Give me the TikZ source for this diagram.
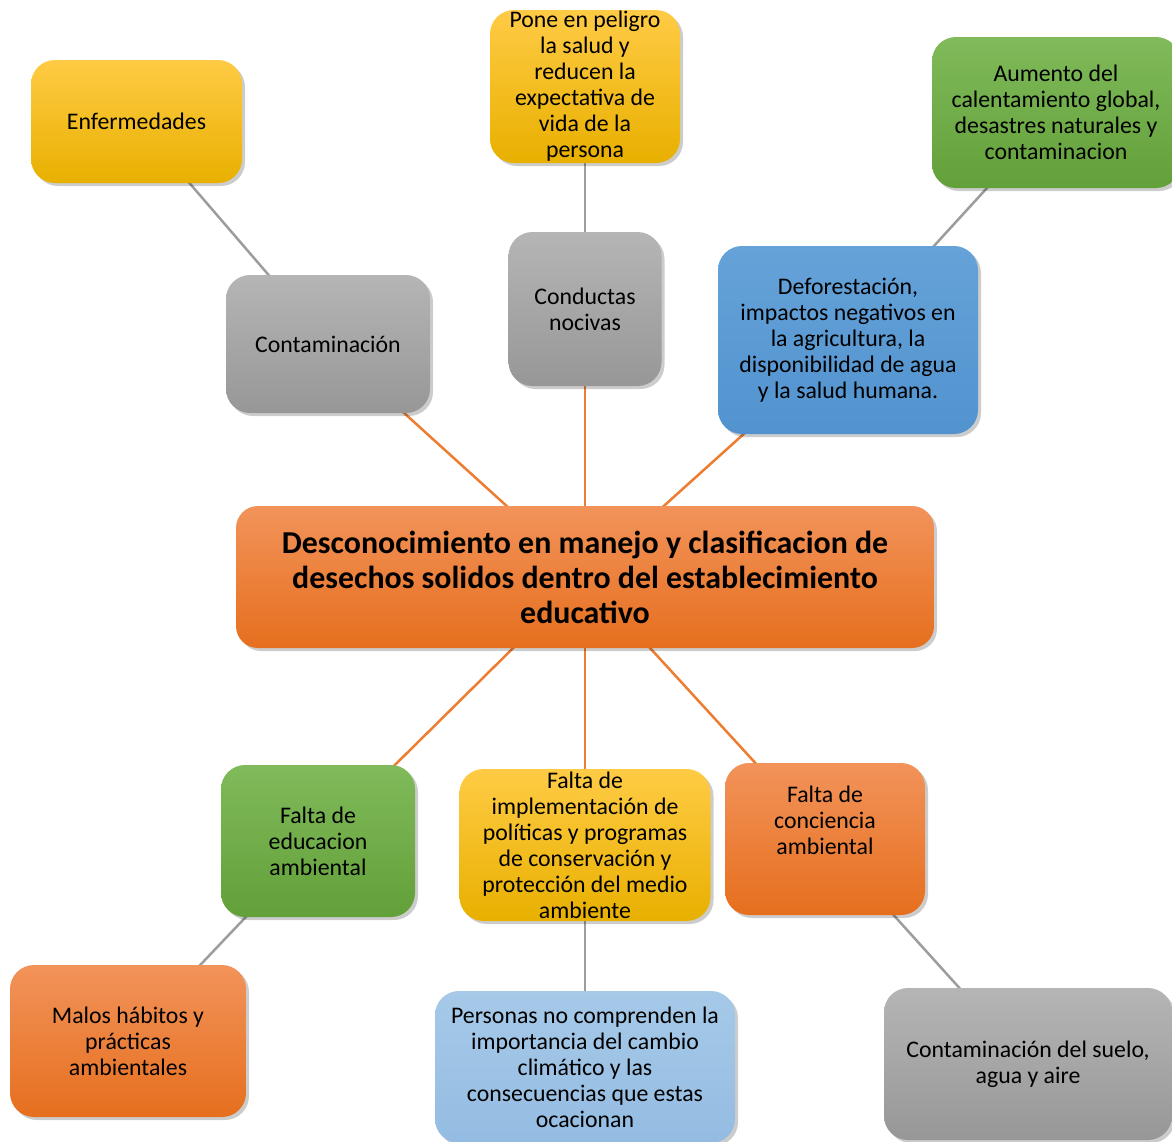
\documentclass[tikz,border=0pt]{standalone}
\usepackage{fontspec}
\setmainfont{Carlito}
\usetikzlibrary{shadows,backgrounds}
\definecolor{goldM}{HTML}{FFC000}
\definecolor{goldT}{HTML}{FFCB45}
\definecolor{goldB}{HTML}{E8B000}
\definecolor{grayM}{HTML}{A5A5A5}
\definecolor{grayT}{HTML}{B5B5B5}
\definecolor{grayB}{HTML}{979797}
\definecolor{blueM}{HTML}{5B9BD5}
\definecolor{blueT}{HTML}{65A2D8}
\definecolor{blueB}{HTML}{5293CF}
\definecolor{greenM}{HTML}{70AD47}
\definecolor{greenT}{HTML}{80BA5A}
\definecolor{greenB}{HTML}{62A039}
\definecolor{orangeM}{HTML}{ED7D31}
\definecolor{orangeT}{HTML}{F2935A}
\definecolor{orangeB}{HTML}{E66F1E}
\definecolor{lblueM}{HTML}{9DC3E6}
\definecolor{lblueT}{HTML}{A6C9E8}
\definecolor{lblueB}{HTML}{94BCE2}
\begin{document}
\begin{tikzpicture}[x=1pt,y=-1pt,
  box/.style={rounded corners=24pt, inner sep=0pt, align=center,
    font=\fontsize{23.8}{26}\selectfont,
    drop shadow={shadow xshift=3pt,shadow yshift=-3pt,opacity=0.2,fill=black}},
  goldbox/.style={box, top color=goldT, middle color=goldM, bottom color=goldB},
  graybox/.style={box, top color=grayT, middle color=grayM, bottom color=grayB},
  bluebox/.style={box, top color=blueT, middle color=blueM, bottom color=blueB},
  greenbox/.style={box, top color=greenT, middle color=greenM, bottom color=greenB},
  orangebox/.style={box, top color=orangeT, middle color=orangeM, bottom color=orangeB},
  lbluebox/.style={box, top color=lblueT, middle color=lblueM, bottom color=lblueB},
  grayline/.style={draw=grayM!95!black, line width=2.5pt},
  orangeline/.style={draw=orangeM, line width=2.5pt},
  txt/.style={inner sep=0pt, align=center, font=\fontsize{23.8}{26}\selectfont}
]
\useasboundingbox (0,0) rectangle (1172,1141);
\begin{scope}
\clip (0,0) rectangle (1172,1141);
% top row
\node[goldbox, minimum width=211pt, minimum height=123pt] (enf) at (136.5,121.5) {Enfermedades};
\node[goldbox, minimum width=190pt, minimum height=153pt] (pone) at (585,86.5) {Pone en peligro\\la salud y\\reducen la\\expectativa de\\vida de la\\persona};
\node[greenbox, minimum width=248pt, minimum height=151pt] (aum) at (1056,112.5) {Aumento del\\calentamiento global,\\desastres naturales y\\contaminacion};
% second row
\node[graybox, minimum width=204pt, minimum height=138pt] (cont) at (328,344) {Contaminación};
\node[graybox, minimum width=153pt, minimum height=154pt] (cond) at (585,309) {Conductas\\nocivas};
\node[bluebox, minimum width=260pt, minimum height=188pt] (def) at (848,340) {Deforestación,\\impactos negativos en\\la agricultura, la\\disponibilidad de agua\\y la salud humana.};
% central
\node[orangebox, rounded corners=22pt, minimum width=698pt, minimum height=142pt,
  font=\fontsize{31.9}{35}\selectfont\bfseries] (cen) at (585,577)
  {Desconocimiento en manejo y clasificacion de\\desechos solidos dentro del establecimiento\\educativo};
% lower row
\node[greenbox, minimum width=194pt, minimum height=152pt] (edu) at (318,841) {Falta de\\educacion\\ambiental};
\node[goldbox, minimum width=251pt, minimum height=152pt] (imp) at (585,845) {Falta de\\implementación de\\políticas y programas\\de conservación y\\protección del medio\\ambiente};
\node[orangebox, minimum width=200pt, minimum height=152pt] (conc) at (825,839) {};
\node[txt] (conct) at (825,820) {Falta de\\conciencia\\ambiental};
% bottom row
\node[orangebox, minimum width=236pt, minimum height=152pt] (mal) at (128,1041) {Malos hábitos y\\prácticas\\ambientales};
\node[lbluebox, minimum width=300pt, minimum height=152pt] (per) at (585,1067) {Personas no comprenden la\\importancia del cambio\\climático y las\\consecuencias que estas\\ocacionan};
\node[graybox, minimum width=288pt, minimum height=152pt] (sue) at (1028,1064) {Contaminación del suelo,\\agua y aire};
% connectors
\begin{scope}[on background layer]
\fill[white] (0,0) rectangle (1172,1141);
\draw[grayline] (enf.center) -- (cont.center);
\draw[grayline] (pone.center) -- (cond.center);
\draw[grayline] (aum.center) -- (def.center);
\draw[orangeline] (cont.center) -- (cen.center);
\draw[orangeline] (cond.center) -- (cen.center);
\draw[orangeline] (def.center) -- (cen.center);
\draw[orangeline] (cen.center) -- (edu.center);
\draw[orangeline] (cen.center) -- (imp.center);
\draw[orangeline] (cen.center) -- (conc.center);
\draw[grayline] (edu.center) -- (mal.center);
\draw[grayline] (imp.center) -- (per.center);
\draw[grayline] (conc.center) -- (sue.center);
\end{scope}
\end{scope}
\end{tikzpicture}
\end{document}
